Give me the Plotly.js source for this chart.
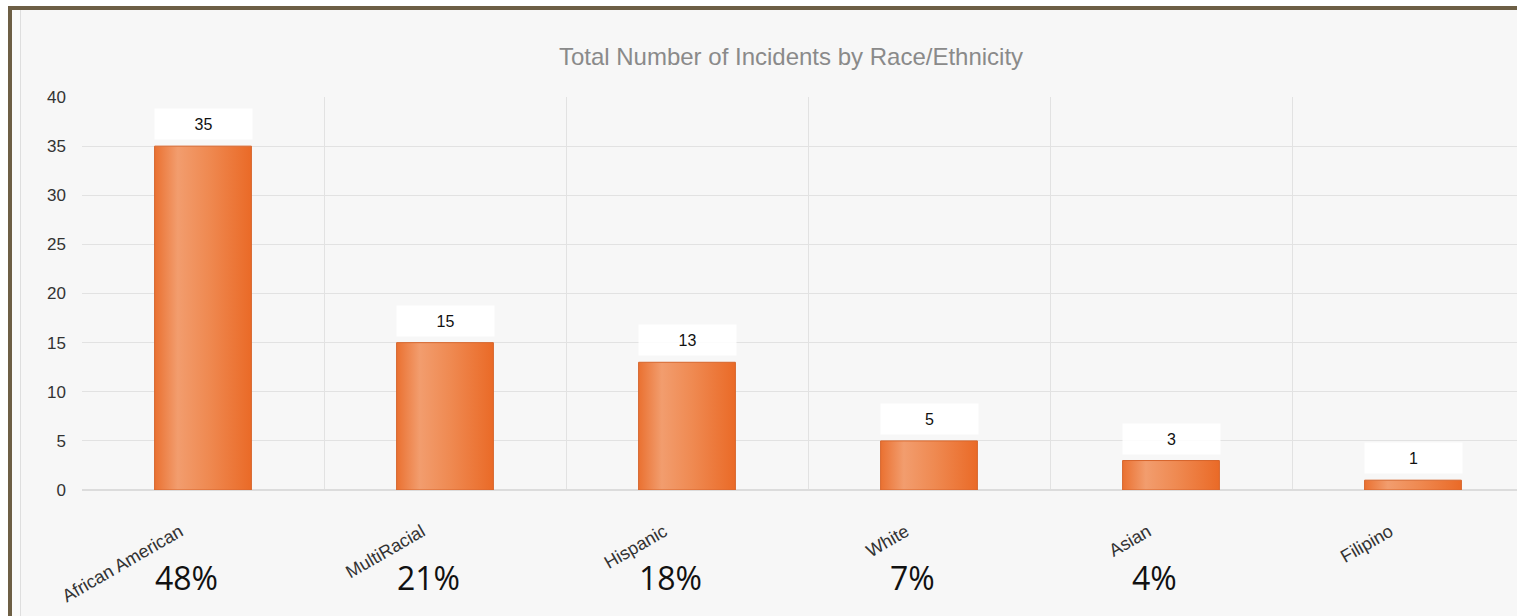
<!DOCTYPE html>
<html>
<head>
<meta charset="utf-8">
<script src="https://cdn.plot.ly/plotly-3.0.1.min.js"></script>
<style>
  html, body { margin: 0; padding: 0; background: #fff; overflow: hidden; width: 1517px; height: 616px; }
  #frame { position: absolute; left: 8px; top: 6px; width: 1600px; height: 700px;
           border-left: 4px solid #6d5f45; border-top: 4px solid #6d5f45; background: #fafafa; }
  #panel { position: absolute; left: 20px; top: 10px; width: 1600px; height: 700px;
           border-left: 1px solid #dedede; background: #f7f7f7; }
  #chart { position: absolute; left: 0; top: 0; width: 1544px; height: 616px; }
</style>
</head>
<body>
<div id="frame"></div>
<div id="panel"></div>
<div id="chart"></div>
<script>
// Incident counts by race/ethnicity
const categories = ['African American', 'MultiRacial', 'Hispanic', 'White', 'Asian', 'Filipino'];
const incidents = [35, 15, 13, 5, 3, 1];
const shareLabels = ['48%', '21%', '18%', '7%', '4%', ''];
const yTicks = [0, 5, 10, 15, 20, 25, 30, 35, 40];

const baseFont = 'Liberation Sans, Arial, Helvetica, sans-serif';

const barTrace = {
  type: 'bar',
  x: categories,
  y: incidents,
  width: 0.4,
  marker: { color: '#ee8449', line: { color: '#d6652c', width: 1 } },
  hoverinfo: 'x+y'
};

// value boxes sitting above each bar
const valueNotes = categories.map((c, i) => ({
  x: c, y: incidents[i], xref: 'x', yref: 'y',
  yanchor: 'bottom', yshift: 6,
  text: String(incidents[i]), showarrow: false,
  width: 97, height: 30, borderpad: 0,
  bgcolor: 'rgba(255,255,255,0.9)',
  font: { family: baseFont, size: 16, color: '#111' }
}));

// share of total under each category
const shareNotes = categories.map((c, i) => ({
  x: c, y: 0, xref: 'x', yref: 'paper',
  yanchor: 'middle', xanchor: 'center', yshift: -87, xshift: -17,
  text: shareLabels[i], showarrow: false,
  font: { family: 'Open Sans, Noto Sans, sans-serif', size: 32, color: '#111' }
}));

const layout = {
  width: 1544, height: 616,
  margin: { l: 82, r: 10, t: 97, b: 126, pad: 0, autoexpand: false },
  paper_bgcolor: 'rgba(0,0,0,0)',
  plot_bgcolor: 'rgba(0,0,0,0)',
  showlegend: false,
  title: {
    text: 'Total Number of Incidents by Race/Ethnicity',
    font: { family: baseFont, size: 24, color: '#8a8a8a' },
    xref: 'container', x: 791 / 1544, xanchor: 'center',
    yref: 'container', y: 1 - 57 / 616, yanchor: 'middle'
  },
  xaxis: {
    type: 'category',
    range: [-0.5, 5.5],
    tickson: 'boundaries',
    showgrid: true, gridcolor: '#e2e2e2', gridwidth: 1,
    ticks: '', showline: false,
    tickangle: -30,
    ticklabelshift: -23,
    ticklabelstandoff: 27,
    tickfont: { family: baseFont, size: 18, color: '#333' },
    fixedrange: true
  },
  yaxis: {
    range: [0, 40],
    tickvals: yTicks,
    showgrid: true, gridcolor: '#e2e2e2', gridwidth: 1,
    zeroline: true, zerolinecolor: '#dcdcdc', zerolinewidth: 2,
    ticks: '', showline: false,
    ticklabelstandoff: 15,
    tickfont: { family: baseFont, size: 17, color: '#333' },
    fixedrange: true
  },
  annotations: valueNotes.concat(shareNotes)
};

const gd = document.getElementById('chart');

// horizontal shading across each bar
function shadeBars() {
  const svg = gd.querySelector('.main-svg');
  if (!svg) return;
  let defs = svg.querySelector('defs');
  if (!defs) { defs = document.createElementNS('http://www.w3.org/2000/svg', 'defs'); svg.insertBefore(defs, svg.firstChild); }
  if (!defs.querySelector('#barShade')) {
    const grad = document.createElementNS('http://www.w3.org/2000/svg', 'linearGradient');
    grad.setAttribute('id', 'barShade');
    grad.setAttribute('x1', '0'); grad.setAttribute('y1', '0');
    grad.setAttribute('x2', '1'); grad.setAttribute('y2', '0');
    [['0%', '#ea7131'], ['24%', '#f29d6e'], ['55%', '#ef8a52'], ['100%', '#ea6a27']].forEach(s => {
      const st = document.createElementNS('http://www.w3.org/2000/svg', 'stop');
      st.setAttribute('offset', s[0]); st.setAttribute('stop-color', s[1]);
      grad.appendChild(st);
    });
    defs.appendChild(grad);
  }
  gd.querySelectorAll('.barlayer .point path').forEach(p => { p.style.fill = 'url(#barShade)'; });
}

Plotly.newPlot(gd, [barTrace], layout, { displayModeBar: false, staticPlot: true }).then(() => {
  shadeBars();
  gd.on('plotly_afterplot', shadeBars);
});
</script>
</body>
</html>
